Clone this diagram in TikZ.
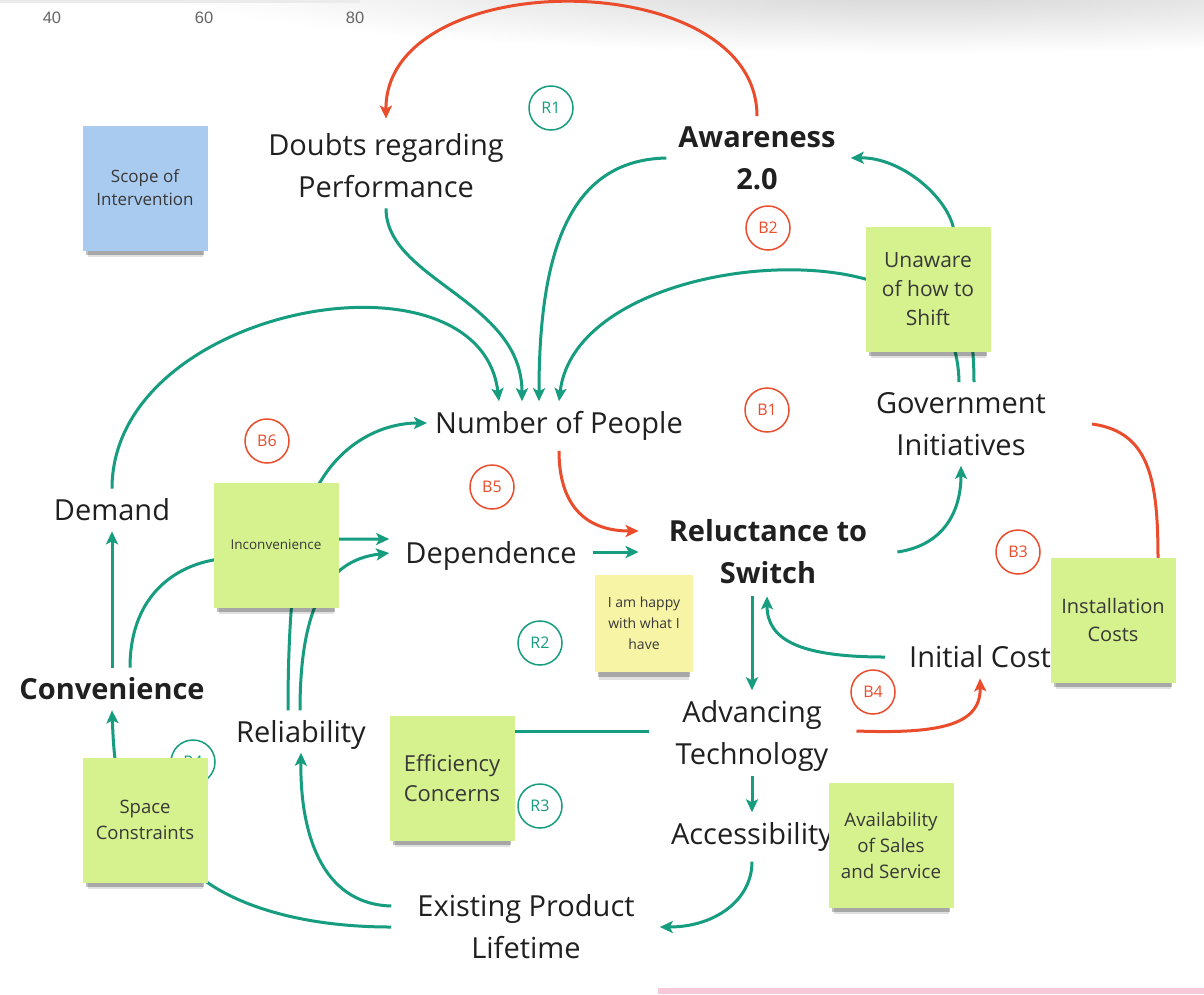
\documentclass[tikz,border=0pt]{standalone}
\usepackage{fontspec}
\setmainfont{Open Sans}
\newfontfamily\rulerfont{Liberation Sans}
\usepackage{tikz}
\usetikzlibrary{
    positioning,
    arrows.meta,
    shadows,
    calc
  }
\definecolor{linkgreen}{RGB}{22,156,126}
\definecolor{linkred}{RGB}{234,76,44}
\definecolor{notegreen}{RGB}{214,242,142}
\definecolor{noteblue}{RGB}{170,203,240}
\definecolor{noteyellow}{RGB}{248,244,166}
\definecolor{barpink}{RGB}{246,200,216}
\definecolor{ink}{RGB}{32,32,32}
\pgfdeclarelayer{bgfill}
\pgfdeclarelayer{links}
\pgfsetlayers{bgfill,links,main}
\tikzstyle{var}=[text=ink,align=center,inner xsep=8pt,inner ysep=10pt,font=\fontsize{29}{42}\selectfont]
\tikzstyle{keyvar}=[var,font=\fontsize{29}{42}\selectfont\bfseries]
\tikzstyle{note}=[fill=notegreen,text=black!78,align=center,minimum width=125pt,minimum height=125pt,inner sep=2pt,
  general shadow={shadow scale=.92,shadow xshift=0pt,shadow yshift=-13pt,fill=black,opacity=.12},
  general shadow={shadow scale=.94,shadow xshift=0pt,shadow yshift=-9pt,fill=black,opacity=.25}]
\tikzstyle{loopmark}=[circle,draw,line width=1.5pt,minimum size=44pt,inner sep=0pt,font=\fontsize{16}{18}\selectfont]
\tikzstyle{ruler}=[text=black!60,font=\rulerfont\fontsize{16.5}{18}\selectfont]
\tikzstyle{poslink}=[draw=linkgreen,line width=3pt,-{Stealth[length=13pt,width=12pt,inset=3pt]}]
\tikzstyle{neglink}=[draw=linkred,line width=3pt,-{Stealth[length=13pt,width=12pt,inset=3pt]}]
\tikzstyle{plainlink}=[draw=linkgreen,line width=3pt]

\begin{document}
\begin{tikzpicture}[x=1pt,y=1pt]
\useasboundingbox (0,0) rectangle (1204,-994);
\begin{pgfonlayer}{bgfill}
\fill[white] (0,0) rectangle (1204,-994);
\shade[inner color=black!17,outer color=white] (920,12) ellipse [x radius=760,y radius=66];
\fill[black!8] (0,0) rectangle (360,-3);
\fill[barpink] (658,-988) rectangle (1204,-994);
\end{pgfonlayer}
\node[ruler] (t40) at (52,-18) {40};
\node[ruler] (t60) at (204,-18) {60};
\node[ruler] (t80) at (355,-18) {80};

\node[var] (doubts) at (386,-166) {Doubts regarding\\Performance};
\node[keyvar] (aware) at (757,-158) {Awareness\\2.0};
\node[var] (people) at (559,-426) {Number of People};
\node[var] (gov) at (961,-424) {Government\\Initiatives};
\node[var] (demand) at (112,-510) {Demand};
\node[var,inner xsep=16pt] (depend) at (491,-556) {Dependence};
\node[keyvar,inner xsep=30pt,inner ysep=12pt] (reluct) at (768,-552) {Reluctance to\\Switch};
\node[var] (initcost) at (980,-657) {Initial Cost};
\node[keyvar] (conv) at (112,-689) {Convenience};
\node[var] (reliab) at (301,-735) {Reliability};
\node[var] (advtech) at (752,-736) {Advancing\\Technology};
\path (advtech)++(0,-101) node[var] (access) {Accessibility};
\node[var] (lifetime) at (526,-927) {Existing Product\\Lifetime};

\node[loopmark,linkgreen] (r1) at (551,-108) {R1};
\node[loopmark,linkred] (b2) at (768,-228) {B2};
\node[loopmark,linkred] (b1) at (767,-410) {B1};
\node[loopmark,linkred] (b6) at (267,-441) {B6};
\node[loopmark,linkred] (b5) at (492,-487) {B5};
\node[loopmark,linkred] (b3) at (1018,-552) {B3};
\node[loopmark,linkgreen] (r2) at (540,-643) {R2};
\node[loopmark,linkred] (b4) at (873,-692) {B4};
\node[loopmark,linkgreen] (r3) at (540,-806) {R3};
\node[loopmark,linkgreen] (r4) at (193,-762) {R4};

\node[note,fill=noteblue,font=\fontsize{17}{23}\selectfont] (scope) at (145,-188) {Scope of\\Intervention};
\node[note,font=\fontsize{21}{29}\selectfont] (unaware) at (928,-289) {Unaware\\of how to\\Shift};
\node[note,font=\fontsize{13.5}{16}\selectfont] (incon) at (276,-545) {Inconvenience};
\node[note,fill=noteyellow,minimum width=98pt,minimum height=97pt,font=\fontsize{14}{21}\selectfont] (happy) at (644,-623) {I am happy\\with what I\\have};
\node[note,font=\fontsize{20}{28}\selectfont] (install) at (1113,-620) {Installation\\Costs};
\node[note,font=\fontsize{18.5}{26}\selectfont] (space) at (145,-820) {Space\\Constraints};
\node[note,font=\fontsize{22}{30}\selectfont] (effic) at (452,-778) {Efficiency\\Concerns};
\node[note,font=\fontsize{18.7}{26}\selectfont] (avail) at (891,-845) {Availability\\of Sales\\and Service};

\begin{pgfonlayer}{links}
\draw[neglink] (aware.north) .. controls (757,36) and (385,36) .. ([yshift=5pt]doubts.north);
\draw[poslink] (doubts.south) .. controls (386,-280) and (522,-300) .. ([xshift=-37pt]people.north);
\draw[poslink] ([xshift=-4pt]aware.west) .. controls (570,-160) and (539,-250) .. ([xshift=-20pt]people.north);
\draw[poslink] (demand.north) .. controls (112,-305) and (480,-240) .. ([xshift=-60pt]people.north);
\draw[poslink] ([xshift=-2pt]gov.north) .. controls (958,-320) and (920,-285) .. ([yshift=10pt]unaware.west)
   .. controls (760,-250) and (572,-290) .. (people.north);
\draw[poslink] ([xshift=13pt]gov.north) .. controls (974,-320) and (958,-260) .. ([xshift=25pt]unaware.north)
   .. controls (945,-195) and (900,-157) .. ([xshift=7pt]aware.east);
\draw[neglink] (people.south) .. controls (559,-510) and (590,-531) .. ([yshift=21pt]reluct.west);
\draw[poslink] (depend.east |- reluct.west) -- (reluct.west);
\draw[poslink] (reluct.east) .. controls (945,-545) and (961,-510) .. (gov.south);
\draw[neglink] ([xshift=38pt]gov.east) .. controls (1150,-432) and (1158,-480) .. (1158,-560)
   .. controls (1158,-640) and (1100,-657) .. (initcost.east);
\draw[poslink] ([xshift=-16pt]initcost.west) .. controls (800,-657) and (767,-640) .. ([xshift=-1pt]reluct.south);
\draw[poslink] ([xshift=-16pt]reluct.south) -- (advtech.north);
\draw[neglink] ([xshift=20pt,yshift=5pt]advtech.east) .. controls (940,-734) and (981,-725) .. (initcost.south);
\draw[plainlink] ([xshift=-19pt,yshift=5pt]advtech.west) -- ([yshift=5pt]advtech.west -| effic.center);
\draw[poslink] ([yshift=6pt]advtech.south) -- (access.north);
\draw[poslink] (access.south) .. controls (752,-900) and (715,-927) .. ([xshift=17pt]lifetime.east);
\draw[poslink] ([xshift=-18pt,yshift=21pt]lifetime.west) .. controls (320,-904) and (300,-830) .. ([yshift=7pt]reliab.south);
\draw[poslink] ([xshift=-18pt]lifetime.west) .. controls (300,-927) and (240,-905) .. (space.south east)
   .. controls (120,-820) and (115,-790) .. (conv.south);
\draw[poslink] (conv.north) -- (demand.south);
\draw[poslink] ([xshift=18pt]conv.north) .. controls (130,-600) and (170,-568) .. ([yshift=-15pt]incon.west)
   -- ([yshift=6pt]incon.east) -- ([yshift=17pt]depend.west);
\draw[poslink] ([xshift=-1pt]reliab.north) .. controls (300,-610) and (325,-560) .. ([yshift=3pt]depend.west);
\draw[poslink] ([xshift=-13pt]reliab.north) .. controls (288,-560) and (305,-505) .. ([xshift=44pt]incon.north)
   .. controls (345,-440) and (385,-423) .. ([yshift=3pt]people.west);
\end{pgfonlayer}
\end{tikzpicture}
\end{document}
